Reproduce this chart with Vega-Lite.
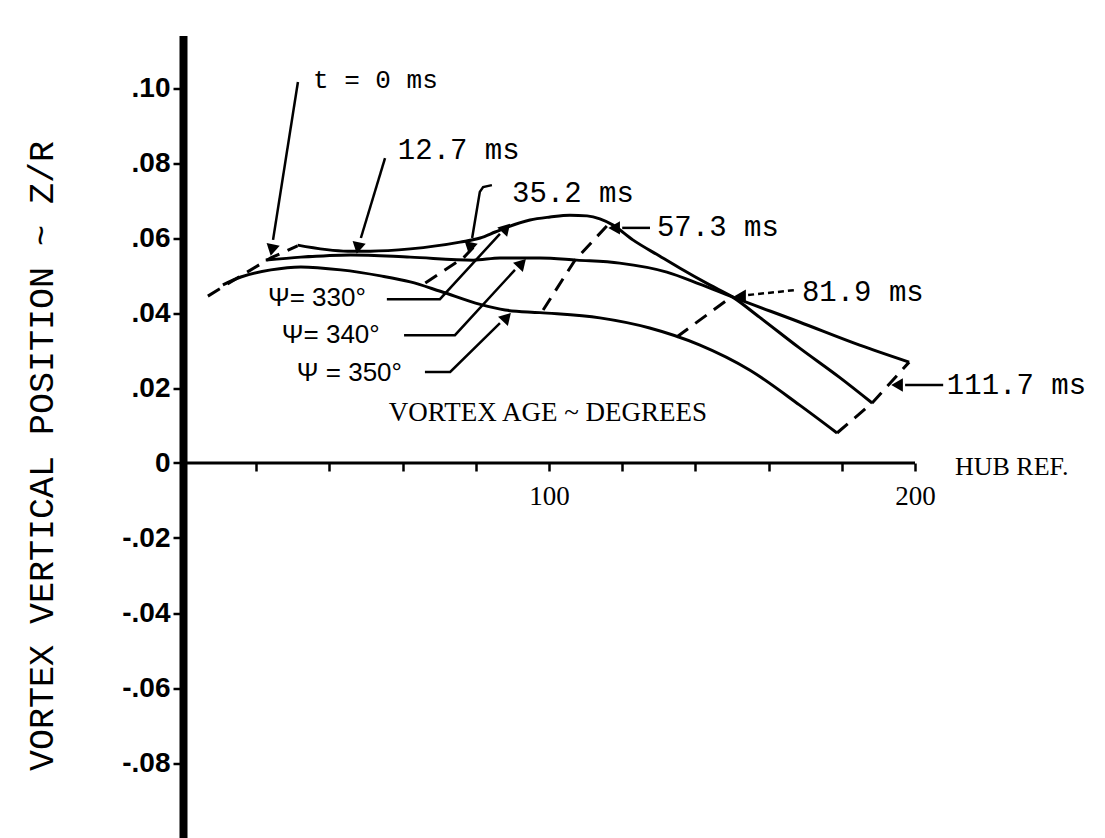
{
  "$schema": "https://vega.github.io/schema/vega-lite/v6.json",
  "width": 915,
  "height": 802.5,
  "autosize": "none",
  "padding": {"left": 183, "top": 35.5, "right": 7, "bottom": 0},
  "background": "white",
  "config": {"view": {"stroke": null}},
  "datasets": {
    "curves": [
      {"s": "350", "x": 10.9, "y": 0.0475}, {"s": "350", "x": 15.8, "y": 0.0496}, {"s": "350", "x": 24.0, "y": 0.0515}, {"s": "350", "x": 32.2, "y": 0.0523}, {"s": "350", "x": 43.1, "y": 0.0515}, {"s": "350", "x": 54.0, "y": 0.0499}, {"s": "350", "x": 62.1, "y": 0.0483}, {"s": "350", "x": 70.3, "y": 0.0458}, {"s": "350", "x": 81.2, "y": 0.0423}, {"s": "350", "x": 88.0, "y": 0.0408}, {"s": "350", "x": 97.5, "y": 0.0401}, {"s": "350", "x": 113.9, "y": 0.0387}, {"s": "350", "x": 127.5, "y": 0.0360}, {"s": "350", "x": 141.1, "y": 0.0315}, {"s": "350", "x": 154.8, "y": 0.0248}, {"s": "350", "x": 168.4, "y": 0.0155}, {"s": "350", "x": 178.7, "y": 0.0080},
      {"s": "340", "x": 22.6, "y": 0.0541}, {"s": "340", "x": 32.2, "y": 0.0549}, {"s": "340", "x": 45.8, "y": 0.0555}, {"s": "340", "x": 62.1, "y": 0.0549}, {"s": "340", "x": 79.3, "y": 0.0541}, {"s": "340", "x": 86.6, "y": 0.0547}, {"s": "340", "x": 97.5, "y": 0.0547}, {"s": "340", "x": 107.6, "y": 0.0541}, {"s": "340", "x": 119.3, "y": 0.0533}, {"s": "340", "x": 132.2, "y": 0.0509}, {"s": "340", "x": 141.2, "y": 0.0477}, {"s": "340", "x": 150.1, "y": 0.0443}, {"s": "340", "x": 168.4, "y": 0.0376}, {"s": "340", "x": 184.7, "y": 0.0315}, {"s": "340", "x": 198.4, "y": 0.0269},
      {"s": "330", "x": 31.3, "y": 0.0581}, {"s": "330", "x": 45.0, "y": 0.0565}, {"s": "330", "x": 51.2, "y": 0.0565}, {"s": "330", "x": 62.1, "y": 0.0571}, {"s": "330", "x": 75.7, "y": 0.0589}, {"s": "330", "x": 81.2, "y": 0.0600}, {"s": "330", "x": 85.3, "y": 0.0616}, {"s": "330", "x": 88.6, "y": 0.0629}, {"s": "330", "x": 94.8, "y": 0.0648}, {"s": "330", "x": 100.3, "y": 0.0656}, {"s": "330", "x": 105.7, "y": 0.0661}, {"s": "330", "x": 110.4, "y": 0.0659}, {"s": "330", "x": 113.9, "y": 0.0651}, {"s": "330", "x": 117.4, "y": 0.0635}, {"s": "330", "x": 122.9, "y": 0.0595}, {"s": "330", "x": 130.2, "y": 0.0552}, {"s": "330", "x": 135.7, "y": 0.0520}, {"s": "330", "x": 143.9, "y": 0.0475}, {"s": "330", "x": 150.1, "y": 0.0443}, {"s": "330", "x": 157.5, "y": 0.0389}, {"s": "330", "x": 168.4, "y": 0.0307}, {"s": "330", "x": 179.3, "y": 0.0229}, {"s": "330", "x": 188.3, "y": 0.0160}
    ],
    "times": [
      {"t": "0", "x": 6.8, "y": 0.0445}, {"t": "0", "x": 15.8, "y": 0.0499}, {"t": "0", "x": 24.0, "y": 0.0547}, {"t": "0", "x": 31.3, "y": 0.0579},
      {"t": "35.2", "x": 66.2, "y": 0.0480}, {"t": "35.2", "x": 76.6, "y": 0.0547}, {"t": "35.2", "x": 80.7, "y": 0.0589},
      {"t": "57.3", "x": 98.4, "y": 0.0408}, {"t": "57.3", "x": 107.1, "y": 0.0541}, {"t": "57.3", "x": 115.8, "y": 0.0632},
      {"t": "81.9", "x": 134.9, "y": 0.0336}, {"t": "81.9", "x": 150.1, "y": 0.0445},
      {"t": "111.7", "x": 178.7, "y": 0.0080}, {"t": "111.7", "x": 188.3, "y": 0.0160}, {"t": "111.7", "x": 198.4, "y": 0.0269}
    ],
    "leaders": [
      {"id": "t0", "k": 1, "x": 31.4, "y": 0.1016}, {"id": "t0", "k": 2, "x": 24.6, "y": 0.0595},
      {"id": "t12", "k": 1, "x": 55.2, "y": 0.0813}, {"id": "t12", "k": 2, "x": 48.6, "y": 0.0600},
      {"id": "t35", "k": 1, "x": 84.4, "y": 0.0741}, {"id": "t35", "k": 2, "x": 82.0, "y": 0.0736}, {"id": "t35", "k": 3, "x": 81.1, "y": 0.0723}, {"id": "t35", "k": 4, "x": 79.0, "y": 0.0600},
      {"id": "t57", "k": 1, "x": 127.6, "y": 0.0627}, {"id": "t57", "k": 2, "x": 120.0, "y": 0.0627},
      {"id": "t111", "k": 1, "x": 207.7, "y": 0.0208}, {"id": "t111", "k": 2, "x": 197.3, "y": 0.0208},
      {"id": "p330", "k": 1, "x": 55.7, "y": 0.0437}, {"id": "p330", "k": 2, "x": 70.2, "y": 0.0437}, {"id": "p330", "k": 3, "x": 86.6, "y": 0.0611},
      {"id": "p340", "k": 1, "x": 60.4, "y": 0.0341}, {"id": "p340", "k": 2, "x": 74.3, "y": 0.0341}, {"id": "p340", "k": 3, "x": 90.7, "y": 0.0515},
      {"id": "p350", "k": 1, "x": 66.1, "y": 0.0243}, {"id": "p350", "k": 2, "x": 73.0, "y": 0.0243}, {"id": "p350", "k": 3, "x": 86.6, "y": 0.0373}
    ],
    "dashleader": [
      {"id": "t81", "x": 167.2, "y": 0.0461}, {"id": "t81", "x": 154.4, "y": 0.0448}
    ],
    "heads": [
      {"id": "t0", "dir": "down", "x": 24.3, "y": 0.0568},
      {"id": "t12", "dir": "down", "x": 47.8, "y": 0.0573},
      {"id": "t35", "dir": "down", "x": 78.4, "y": 0.0573},
      {"id": "t57", "dir": "left", "x": 117.8, "y": 0.0627},
      {"id": "t81", "dir": "left", "x": 152.2, "y": 0.0445},
      {"id": "t111", "dir": "left", "x": 195.1, "y": 0.0208},
      {"id": "p330", "dir": "up", "x": 88.3, "y": 0.0627},
      {"id": "p340", "dir": "up", "x": 92.6, "y": 0.0533},
      {"id": "p350", "dir": "up", "x": 88.5, "y": 0.0389}
    ],
    "axisline": [
      {"x": 0, "y": 0}, {"x": 200, "y": 0}
    ],
    "labels": [
      {"kind": "mono0", "text": "t = 0 ms", "x": 35.5, "y": 0.1021},
      {"kind": "mono", "text": "12.7 ms", "x": 58.7, "y": 0.0835},
      {"kind": "mono", "text": "35.2 ms", "x": 89.9, "y": 0.0720},
      {"kind": "mono", "text": "57.3 ms", "x": 129.5, "y": 0.0629},
      {"kind": "mono", "text": "81.9 ms", "x": 169.1, "y": 0.0456},
      {"kind": "mono", "text": "111.7 ms", "x": 208.7, "y": 0.0208},
      {"kind": "sans", "text": "Ψ= 330°", "x": 23.2, "y": 0.0440},
      {"kind": "sans", "text": "Ψ= 340°", "x": 27.0, "y": 0.0341},
      {"kind": "sans", "text": "Ψ = 350°", "x": 31.1, "y": 0.0240},
      {"kind": "serifc", "text": "VORTEX AGE ~ DEGREES", "x": 99.7, "y": 0.0133},
      {"kind": "serif", "text": "HUB REF.", "x": 210.9, "y": -0.0011}
    ]
  },
  "encoding": {
    "x": {"field": "x", "type": "quantitative", "scale": {"domain": [0, 250], "nice": false, "zero": false}},
    "y": {"field": "y", "type": "quantitative", "scale": {"domain": [-0.1, 0.114], "nice": false, "zero": false}}
  },
  "layer": [
    {
      "data": {"name": "axisline"},
      "mark": {"type": "line", "color": "black", "strokeWidth": 3},
      "encoding": {
        "x": {"field": "x", "type": "quantitative", "scale": {"domain": [0, 250], "nice": false, "zero": false},
          "axis": {"orient": "bottom", "offset": -375, "domain": false, "grid": false, "values": [20, 40, 60, 80, 100, 120, 140, 160, 180, 200],
            "tickSize": 8, "tickWidth": 2.5, "tickColor": "black", "labelExpr": "datum.value == 100 || datum.value == 200 ? datum.label : ''",
            "labelFont": "Liberation Serif", "labelFontSize": 27, "labelColor": "black", "labelPadding": 12, "title": null}},
        "y": {"field": "y", "type": "quantitative", "scale": {"domain": [-0.1, 0.114], "nice": false, "zero": false},
          "axis": {"orient": "left", "values": [-0.08, -0.06, -0.04, -0.02, 0, 0.02, 0.04, 0.06, 0.08, 0.1],
            "grid": false, "domainWidth": 8, "domainColor": "black", "tickSize": 10, "tickWidth": 2.5, "tickColor": "black",
            "labelExpr": "datum.value == 0 ? '0' : replace(replace(format(datum.value, '.2f'), '0.', '.'), '−', '-')",
            "labelFont": "Liberation Sans", "labelFontWeight": "bold", "labelFontSize": 28, "labelColor": "black", "labelPadding": 3,
            "title": "VORTEX VERTICAL POSITION ~ Z/R", "titleFont": "Liberation Mono", "titleFontSize": 35, "titleFontWeight": "normal",
            "titleColor": "black", "titleX": -142, "titleY": 420, "titleAngle": -90, "titleAlign": "center", "titleBaseline": "middle"}}
      }
    },
    {
      "data": {"name": "curves"},
      "mark": {"type": "line", "color": "black", "strokeWidth": 3, "interpolate": "monotone"},
      "encoding": {"detail": {"field": "s"}}
    },
    {
      "data": {"name": "times"},
      "mark": {"type": "line", "color": "black", "strokeWidth": 3, "strokeDash": [14, 9]},
      "encoding": {"detail": {"field": "t"}}
    },
    {
      "data": {"name": "leaders"},
      "mark": {"type": "line", "color": "black", "strokeWidth": 2.5},
      "encoding": {"detail": {"field": "id"}, "order": {"field": "k"}}
    },
    {
      "data": {"name": "dashleader"},
      "mark": {"type": "line", "color": "black", "strokeWidth": 2.5, "strokeDash": [6, 4]},
      "encoding": {"detail": {"field": "id"}}
    },
    {
      "data": {"name": "heads"},
      "transform": [{"filter": "datum.dir == 'down'"}],
      "mark": {"type": "point", "shape": "triangle-down", "filled": true, "color": "black", "size": 180, "angle": 12, "opacity": 1}
    },
    {
      "data": {"name": "heads"},
      "transform": [{"filter": "datum.dir == 'left'"}],
      "mark": {"type": "point", "shape": "triangle-left", "filled": true, "color": "black", "size": 180, "opacity": 1}
    },
    {
      "data": {"name": "heads"},
      "transform": [{"filter": "datum.dir == 'up'"}],
      "mark": {"type": "point", "shape": "triangle-up", "filled": true, "color": "black", "size": 180, "angle": 43, "opacity": 1}
    },
    {
      "data": {"name": "labels"},
      "transform": [{"filter": "datum.kind == 'mono0'"}],
      "mark": {"type": "text", "align": "left", "baseline": "middle", "font": "Liberation Mono", "fontSize": 26, "color": "black"},
      "encoding": {"text": {"field": "text"}}
    },
    {
      "data": {"name": "labels"},
      "transform": [{"filter": "datum.kind == 'mono'"}],
      "mark": {"type": "text", "align": "left", "baseline": "middle", "font": "Liberation Mono", "fontSize": 29, "color": "black"},
      "encoding": {"text": {"field": "text"}}
    },
    {
      "data": {"name": "labels"},
      "transform": [{"filter": "datum.kind == 'sans'"}],
      "mark": {"type": "text", "align": "left", "baseline": "middle", "font": "Liberation Sans", "fontSize": 26, "color": "black"},
      "encoding": {"text": {"field": "text"}}
    },
    {
      "data": {"name": "labels"},
      "transform": [{"filter": "datum.kind == 'serifc'"}],
      "mark": {"type": "text", "align": "center", "baseline": "middle", "font": "Liberation Serif", "fontSize": 27, "color": "black"},
      "encoding": {"text": {"field": "text"}}
    },
    {
      "data": {"name": "labels"},
      "transform": [{"filter": "datum.kind == 'serif'"}],
      "mark": {"type": "text", "align": "left", "baseline": "middle", "font": "Liberation Serif", "fontSize": 26, "color": "black"},
      "encoding": {"text": {"field": "text"}}
    }
  ]
}
